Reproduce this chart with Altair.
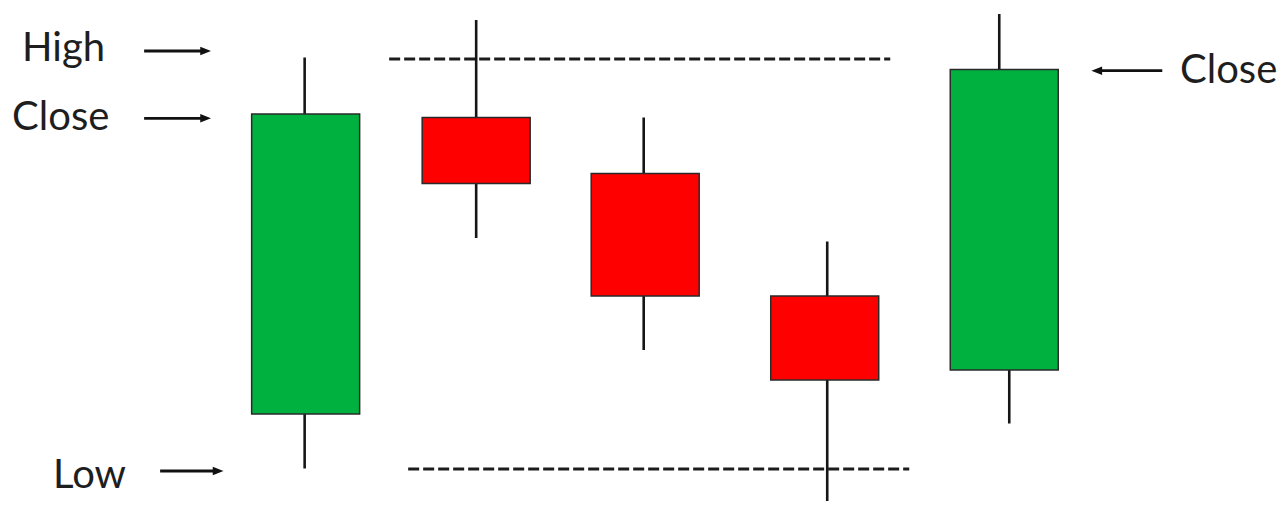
import altair as alt
import pandas as pd

# ---- candle data (time units / price units) ----
candle_t   = [30.55, 47.6, 64.5, 82.45, 100.4]
open_p     = [9.5, 39.15, 33.55, 21.3, 13.9]
close_p    = [39.5, 32.55, 21.3, 12.9, 43.95]
high_p     = [45.15, 48.9, 39.15, 26.75, 49.5]
low_p      = [4.05, 27.1, 15.9, -0.6, 8.55]
upper_wick_t = [30.45, 47.6, 64.35, 82.7, 99.9]
lower_wick_t = [30.45, 47.6, 64.35, 82.7, 100.9]
direction  = ["up", "down", "down", "down", "up"]

# ---- dashed reference levels ----
level_p     = [45.0, 4.0]
level_start = [38.9, 40.8]
level_end   = [89.0, 90.9]

# ---- annotation labels (left side: anchored at start, right side: anchored at end) ----
label_text = ["High", "Close", "Low", "Close"]
label_t    = [2.2, 1.2, 5.3, 127.7]
label_p    = [44.8, 37.9, 2.1, 42.65]
label_side = ["left", "left", "left", "right"]

# ---- annotation arrows ----
arrow_start = [14.4, 14.4, 16.0, 116.2]
arrow_end   = [20.3, 20.3, 21.6, 109.9]
arrow_head  = [20.55, 20.55, 21.8, 109.65]
arrow_p     = [45.8, 39.07, 3.8, 43.83]
arrow_dir   = ["right", "right", "right", "left"]

W, H = 1271, 493
xs = alt.Scale(domain=[1.29, 127.37], nice=False, zero=False)
ys = alt.Scale(domain=[50.1 - H / 10.0, 50.1], nice=False, zero=False)

candles = pd.DataFrame({
    "t": candle_t, "open": open_p, "close": close_p, "high": high_p, "low": low_p,
    "ut": upper_wick_t, "lt": lower_wick_t, "dir": direction,
})
candles["top"] = candles[["open", "close"]].max(axis=1)
candles["bot"] = candles[["open", "close"]].min(axis=1)

levels = pd.DataFrame({"p": level_p, "t0": level_start, "t1": level_end})
labels = pd.DataFrame({"txt": label_text, "t": label_t, "p": label_p, "side": label_side})
arrows = pd.DataFrame({"t0": arrow_start, "t1": arrow_end, "th": arrow_head,
                       "p": arrow_p, "dir": arrow_dir})

wick_color = "#161616"

upper = alt.Chart(candles).mark_rule(color=wick_color, strokeWidth=2.6).encode(
    x=alt.X("ut:Q", scale=xs, axis=None),
    y=alt.Y("high:Q", scale=ys, axis=None),
    y2="top:Q",
)
lower = alt.Chart(candles).mark_rule(color=wick_color, strokeWidth=2.6).encode(
    x=alt.X("lt:Q", scale=xs, axis=None),
    y=alt.Y("bot:Q", scale=ys, axis=None),
    y2="low:Q",
)
bodies = alt.Chart(candles).mark_bar(size=108, stroke="#2a2a2a", strokeWidth=1.5).encode(
    x=alt.X("t:Q", scale=xs, axis=None),
    y=alt.Y("open:Q", scale=ys, axis=None),
    y2="close:Q",
    fill=alt.Fill("dir:N", scale=alt.Scale(domain=["up", "down"], range=["#00B140", "#FF0000"]),
                  legend=None),
)
dashed = alt.Chart(levels).mark_rule(color="#1c1c1c", strokeWidth=3, strokeDash=[11, 4]).encode(
    x=alt.X("t0:Q", scale=xs, axis=None),
    x2="t1:Q",
    y=alt.Y("p:Q", scale=ys, axis=None),
)
text_style = dict(baseline="alphabetic", font="Lato", fontSize=40, color="#1e1e1e")
text_enc = dict(
    x=alt.X("t:Q", scale=xs, axis=None),
    y=alt.Y("p:Q", scale=ys, axis=None),
    text="txt:N",
)
text_left = alt.Chart(labels).transform_filter(alt.datum.side == "left").mark_text(
    align="left", **text_style).encode(**text_enc)
text_right = alt.Chart(labels).transform_filter(alt.datum.side == "right").mark_text(
    align="right", **text_style).encode(**text_enc)

shafts = alt.Chart(arrows).mark_rule(color="#111111", strokeWidth=2.8).encode(
    x=alt.X("t0:Q", scale=xs, axis=None),
    x2="t1:Q",
    y=alt.Y("p:Q", scale=ys, axis=None),
)
heads_r = alt.Chart(arrows).transform_filter(alt.datum.dir == "right").mark_point(
    shape="M -1 -0.8 L 1 0 L -1 0.8 Z", size=115, filled=True, color="#111111", opacity=1
).encode(
    x=alt.X("th:Q", scale=xs, axis=None),
    y=alt.Y("p:Q", scale=ys, axis=None),
)
heads_l = alt.Chart(arrows).transform_filter(alt.datum.dir == "left").mark_point(
    shape="M 1 -0.8 L -1 0 L 1 0.8 Z", size=115, filled=True, color="#111111", opacity=1
).encode(
    x=alt.X("th:Q", scale=xs, axis=None),
    y=alt.Y("p:Q", scale=ys, axis=None),
)

chart = alt.layer(dashed, upper, lower, bodies, text_left, text_right,
                  shafts, heads_r, heads_l).properties(
    width=W, height=H, padding=0, autosize=alt.AutoSizeParams(type="none"),
    background="white",
).configure_view(strokeWidth=0)

chart.save("out.html", embed_options={"renderer": "svg", "actions": False})
